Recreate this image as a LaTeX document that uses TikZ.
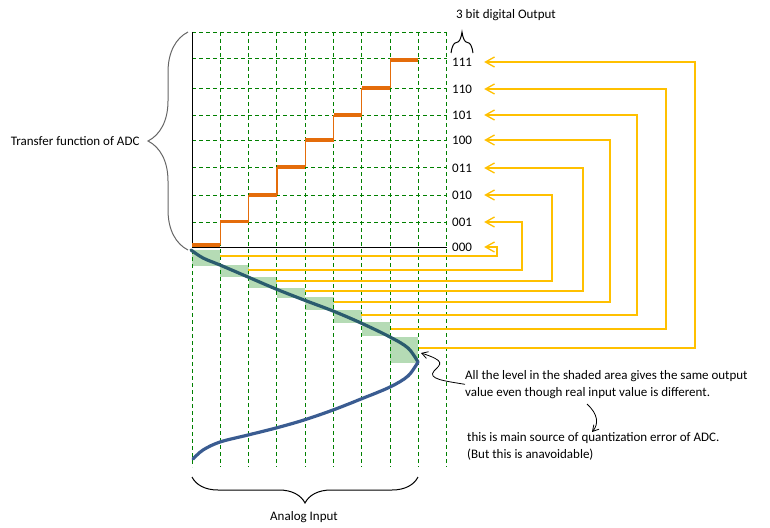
\documentclass[tikz,border=0pt]{standalone}
\usepackage{fontspec}
\setmainfont{Carlito}
\definecolor{gridgreen}{RGB}{0,128,0}
\definecolor{steporange}{RGB}{228,108,10}
\definecolor{linkyellow}{RGB}{255,192,0}
\definecolor{shadegreen}{RGB}{181,219,181}
\definecolor{waveteal}{RGB}{42,92,110}
\definecolor{waveblue}{RGB}{58,92,145}
\usetikzlibrary{arrows.meta,decorations.pathreplacing,positioning}
\tikzstyle{gridline}=[gridgreen,dash pattern=on 4pt off 3pt,line width=.9pt]
\tikzstyle{outcode}=[inner sep=0pt,anchor=west]
\tikzstyle{ylink}=[linkyellow,line width=1.3pt,-{Straight Barb[length=9pt,width=10pt]},shorten >=12pt]
\tikzstyle{noteline}=[black,line width=.8pt,-{Straight Barb[length=6pt,width=7pt]}]
\tikzstyle{note}=[inner sep=0pt,anchor=north west,align=left]
\tikzset{cbrace/.style={decorate,decoration={brace,amplitude=#1},line width=1pt}}

\begin{document}
\begin{tikzpicture}[x=1pt, y=-1pt, font=\fontsize{13}{17}\selectfont]
  \useasboundingbox (0,0) rectangle (770,527);

  % shaded areas
  \foreach \i/\ya/\yb in {0/250/266,1/265/277,2/277/288,3/288/298,4/297/310,5/310/323,6/322/336,7/337/363}
    \fill[shadegreen] ({192+28.3*\i},\ya) rectangle ({192+28.3*(\i+1)},\yb);

  % grid
  \foreach \i in {1,...,9}
    \draw[gridline] ({192+28.3*\i},32) -- ({192+28.3*\i},467);
  \draw[gridline] (192,250) -- (192,467);
  \foreach \y in {32,58,88,115,140,167,195,222}
    \draw[gridline] (192,\y) -- (447,\y);
  \draw[line width=.9pt] (192,32) -- (192,247) -- (447,247);

  % transfer steps
  \foreach \i/\y in {0/245,1/221.5,2/195,3/167,4/140,5/115,6/88,7/60}
    \draw[steporange,line width=3.8pt] ({192+28.3*\i},\y) -- ++(28.3,0);
  \foreach \i/\ya/\yb in {1/245/221.5,2/221.5/195,3/195/167,4/167/140,5/140/115,6/115/88,7/88/60}
    \draw[steporange,line width=1.2pt] ({192+28.3*\i},\ya) -- ({192+28.3*\i},\yb);

  % analog input
  \draw[waveteal,line width=3.2pt,line cap=round] plot[smooth,tension=.55] coordinates
    {(191,250) (203,258) (220,265) (248,277) (276,289) (304,300) (333,311) (361,323) (390,337) (408,348) (418,362)};
  \draw[waveblue,line width=3.2pt,line cap=round] plot[smooth,tension=.55] coordinates
    {(418,362) (408,376) (390,387) (361,399) (333,410) (304,420) (276,428) (248,435) (220,442) (203,450) (193,459)};

  % output codes
  \foreach \i/\b/\y/\xs/\ys/\xr in {0/000/247/220/256/497,1/001/222/248/270/522,2/010/195/276/281/552,3/011/168/305/291/583,4/100/140/334/302/610,5/101/115/361/315/637,6/110/89/391/329/666,7/111/62/419/348/695}{
    \node[outcode] (l\i) at (452,\y) {\b};
    \coordinate (s\i) at (\xs,\ys);
    \coordinate (k\i) at (\xr,\y);
    \draw[ylink] (s\i) -| (k\i) -- (l\i.east);
  }

  % braces
  \draw[cbrace=40pt,black!60] (188,250) -- (188,32);
  \draw[cbrace=21pt] (451,53) -- (473,53);
  \draw[cbrace=26pt] (418,477) -- (192,477);

  \node[anchor=east] (tf) at (143,141) {Transfer function of ADC};
  \node (title) at (506,15) {3 bit digital Output};
  \node (ain) at (304,517) {Analog Input};

  \node[note] (note1) at (465,370) {All the level in the shaded area gives the same output\\value even though real input value is different.};
  \node[note] (note2) at (467,432) {this is main source of quantization error of ADC.\\(But this is anavoidable)};

  \coordinate (nose) at (421,353);
  \coordinate (q1) at (587,404);
  \coordinate (q2) at (592,432);
  \draw[noteline] (note1.west) .. controls (445,381) and (427,379) .. (434,371)
    .. controls (441,364) and (446,361) .. (nose);
  \draw[noteline] (q1) .. controls (598,414) and (599,424) .. (q2);
\end{tikzpicture}
\end{document}
